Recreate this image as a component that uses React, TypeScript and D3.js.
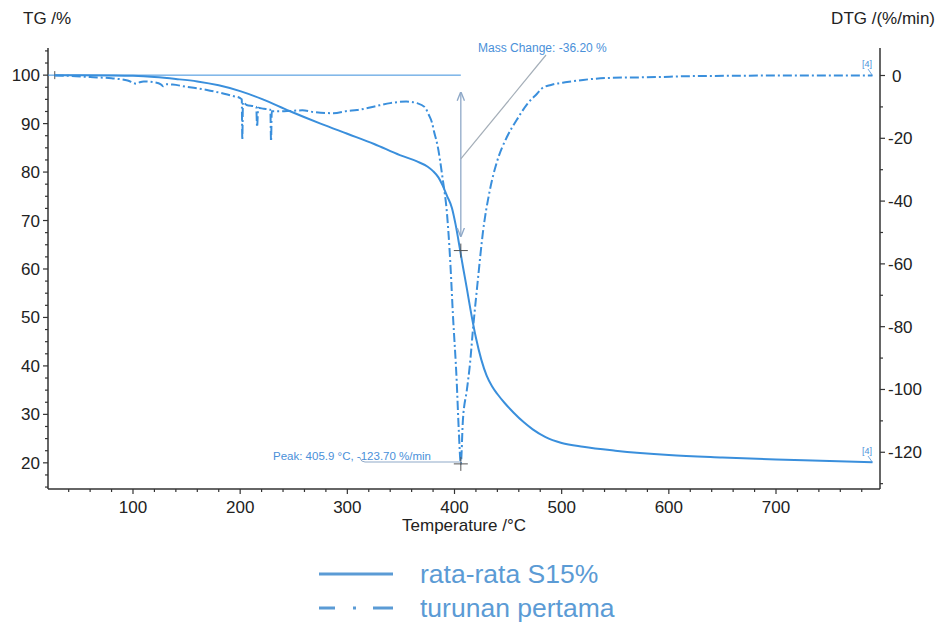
import React from "react";
import * as d3 from "d3";

const tgData: [number, number][] = [
  [27, 100], [50, 100], [80, 99.95], [100, 99.85], [120, 99.6], [140, 99.2], [160, 98.7],
  [180, 97.9], [200, 96.7], [220, 95.1], [246, 92.6], [275, 90], [300, 87.9], [325, 85.8],
  [349, 83.5], [365, 82.2], [375, 81.1], [380, 80.2], [385, 78.9], [389, 77.2], [393, 75.1],
  [397.6, 72.6], [401, 69.2], [405, 64.2], [408, 60.3], [411.6, 55.9], [415, 51.5],
  [420, 45.8], [425, 41.3], [430, 38.0], [435, 35.8], [440, 34.2], [447, 32.3], [455, 30.4],
  [465, 28.3], [473, 26.9], [485, 25.3], [500, 24.1], [520, 23.3], [550, 22.5], [600, 21.6],
  [650, 21.1], [700, 20.7], [750, 20.4], [790, 20.1],
];

const dtgData: [number, number][] = [
  [27, 0], [40, -0.1], [60, -0.5], [80, -0.9], [95, -1.6], [103, -2.6], [106, -2.2],
  [110, -1.9], [120, -2.2], [126, -2.8], [128, -3.4], [131, -2.8], [137, -2.9], [150, -3.6],
  [169, -4.6], [185, -5.8], [193, -6.5], [200, -7.2], [201.5, -7.6], [202, -20.5],
  [202.6, -8.5], [206, -9.4], [213, -9.8], [215, -10], [215.8, -16.4], [216.8, -10.3],
  [222, -10.6], [227, -10.8], [228.2, -11], [228.8, -21], [229.5, -11.4], [238, -11.4],
  [246, -11.3], [258, -11.1], [268, -11.6], [287, -12], [300, -11.3], [309, -11],
  [320, -10.3], [330, -9.5], [340, -8.8], [355, -8.3], [365, -8.8], [372, -10],
  [376, -12.5], [379, -15], [381, -18], [384, -22], [389, -33], [393, -44], [396, -59],
  [398.5, -76], [402, -97], [404, -113], [405.9, -123.7], [407.8, -110], [411.6, -100],
  [414.4, -92], [417.2, -81], [421.8, -65.1], [426.5, -50], [433, -36.5],
  [439.6, -27.5], [448.9, -19.6], [458, -14.2], [468, -9], [477, -5.8], [482, -4],
  [490, -3], [505, -2.1], [520, -1.4], [542, -0.8], [589, -0.5], [620, -0.2], [660, -0.1],
  [700, 0], [790, 0],
];

const xTicks = [100, 200, 300, 400, 500, 600, 700];
const yLeftTicks = [20, 30, 40, 50, 60, 70, 80, 90, 100];
const yRightTicks = [0, -20, -40, -60, -80, -100, -120];

const peakT = 405.9;
const peakDTG = -123.7;
const massAtPeak = 63.8;
const massChangeLabel = "Mass Change: -36.20 %";
const peakLabel = "Peak: 405.9 °C, -123.70 %/min";
const legendLabels = ["rata-rata S15%", "turunan pertama"];

const FONT = "'Liberation Sans', Arial, Helvetica, sans-serif";
const LINE = "#3a8fdc";
const ANNO = "#4a90d9";
const AXIS = "#333";

export default function App() {
  const left = 48, right = 880, top = 48, bottom = 489;
  const xs = d3.scaleLinear().domain([20.69, 797.04]).range([left, right]);
  const yL = d3.scaleLinear().domain([14.6, 105.6]).range([bottom, top]);
  const yR = d3.scaleLinear().domain([-131.7, 8.76]).range([bottom, top]);

  const tgLine = d3.line<[number, number]>().x(d => xs(d[0])).y(d => yL(d[1])).curve(d3.curveMonotoneX);
  const dtgLine = d3.line<[number, number]>().x(d => xs(d[0])).y(d => yR(d[1])).curve(d3.curveMonotoneX);

  const xMinor = d3.range(40, 797, 20);
  const yLMinor = d3.range(15, 105.6, 2.5);
  const yRMinor = d3.range(-130, 8.76, 10);

  const px = xs(peakT);
  const tgEnd = tgData[tgData.length - 1];
  const dtgEnd = dtgData[dtgData.length - 1];

  return (
    <svg width={941} height={627} style={{ position: "absolute", left: 0, top: 0, background: "#fff" }} fontFamily={FONT}>
      <defs>
        <marker id="ah" viewBox="0 0 10 10" refX="9" refY="5" markerWidth="7" markerHeight="7" orient="auto-start-reverse">
          <path d="M0,1 L10,5 L0,9" fill="none" stroke="#8fa9c8" strokeWidth="1.5" />
        </marker>
        <clipPath id="plot"><rect x={left} y={top} width={right - left} height={bottom - top} /></clipPath>
      </defs>

      {/* axes */}
      <line x1={left} y1={top} x2={left} y2={bottom} stroke={AXIS} strokeWidth={1.5} />
      <line x1={right} y1={top} x2={right} y2={bottom} stroke={AXIS} strokeWidth={1.5} />
      <line x1={left} y1={bottom} x2={right} y2={bottom} stroke={AXIS} strokeWidth={1.5} />

      {xMinor.map(v => (
        <line key={"xm" + v} x1={xs(v)} x2={xs(v)} y1={bottom} y2={bottom + (v % 100 === 0 ? 5 : 3)} stroke={AXIS} strokeWidth={1.2} />
      ))}
      {xTicks.map(v => (
        <text key={"xt" + v} x={xs(v)} y={513} textAnchor="middle" fontSize={17} fill="#222">{v}</text>
      ))}

      {yLMinor.map(v => (
        <line key={"ylm" + v} x1={left - (v % 10 === 0 ? 5 : 3)} x2={left} y1={yL(v)} y2={yL(v)} stroke={AXIS} strokeWidth={1.2} />
      ))}
      {yLeftTicks.map(v => (
        <text key={"ylt" + v} x={40} y={yL(v) + 6} textAnchor="end" fontSize={17} fill="#222">{v}</text>
      ))}

      {yRMinor.map(v => (
        <line key={"yrm" + v} x1={right} x2={right + (v % 20 === 0 ? 5 : 3)} y1={yR(v)} y2={yR(v)} stroke={AXIS} strokeWidth={1.2} />
      ))}
      {yRightTicks.map(v => (
        <text key={"yrt" + v} x={v === 0 ? 892 : 888} y={yR(v) + 6} textAnchor="start" fontSize={17} fill="#222">{v}</text>
      ))}

      <text x={23} y={24} fontSize={17} fill="#222">TG /%</text>
      <text x={935} y={24} fontSize={17} fill="#222" textAnchor="end">DTG /(%/min)</text>
      <text x={464} y={531} fontSize={17} fill="#222" textAnchor="middle">Temperature /°C</text>

      {/* reference line at 100 % */}
      <line x1={left} x2={px} y1={yL(100)} y2={yL(100)} stroke={LINE} strokeWidth={1} />
      <line x1={xs(tgData[0][0])} x2={xs(tgData[0][0])} y1={yL(100) - 4} y2={yL(100) + 4} stroke="#555" strokeWidth={1} />

      <g clipPath="url(#plot)">
        <path d={tgLine(tgData) || ""} fill="none" stroke={LINE} strokeWidth={2} />
        <path d={dtgLine(dtgData) || ""} fill="none" stroke={LINE} strokeWidth={2} strokeDasharray="9,3,2,3" />
      </g>

      {/* mass change annotation */}
      <line x1={px} x2={px} y1={yL(96.4)} y2={yL(66.8)} stroke="#8fa9c8" strokeWidth={1.3} markerStart="url(#ah)" markerEnd="url(#ah)" />
      <line x1={px} y1={yL(82.7)} x2={546} y2={55} stroke="#a4aeb8" strokeWidth={1.2} />
      <text x={478} y={52} fontSize={12} fill={ANNO}>{massChangeLabel}</text>
      <g stroke="#555" strokeWidth={1}>
        <line x1={px - 7} x2={px + 7} y1={yL(massAtPeak)} y2={yL(massAtPeak)} />
        <line x1={px} x2={px} y1={yL(massAtPeak) - 7} y2={yL(massAtPeak) + 7} />
        <line x1={px - 7} x2={px + 7} y1={yR(peakDTG)} y2={yR(peakDTG)} />
        <line x1={px} x2={px} y1={yR(peakDTG) - 7} y2={yR(peakDTG) + 7} />
      </g>
      <text x={273} y={460} fontSize={11.5} fill={ANNO}>{peakLabel}</text>
      <path d={`M360,458 Q361,462 365,462 L${px},462`} fill="none" stroke="#8fa9c8" strokeWidth={1} />

      {/* [4] markers */}
      <text x={862} y={67} fontSize={9} fill={ANNO}>[4]</text>
      <line x1={868} y1={69} x2={xs(dtgEnd[0])} y2={yR(dtgEnd[1])} stroke={ANNO} strokeWidth={0.8} />
      <text x={862} y={454} fontSize={9} fill={ANNO}>[4]</text>
      <line x1={868} y1={456} x2={xs(tgEnd[0])} y2={yL(tgEnd[1])} stroke={ANNO} strokeWidth={0.8} />

      {/* legend */}
      <line x1={319} x2={393} y1={574} y2={574} stroke="#5b9bd5" strokeWidth={3} />
      <text x={420} y={583} fontSize={26.5} fill="#5b9bd5">{legendLabels[0]}</text>
      <line x1={319} x2={393} y1={608} y2={608} stroke="#5b9bd5" strokeWidth={3} strokeDasharray="16,18,3,17,21" />
      <text x={420} y={617} fontSize={26.5} fill="#5b9bd5">{legendLabels[1]}</text>
    </svg>
  );
}
